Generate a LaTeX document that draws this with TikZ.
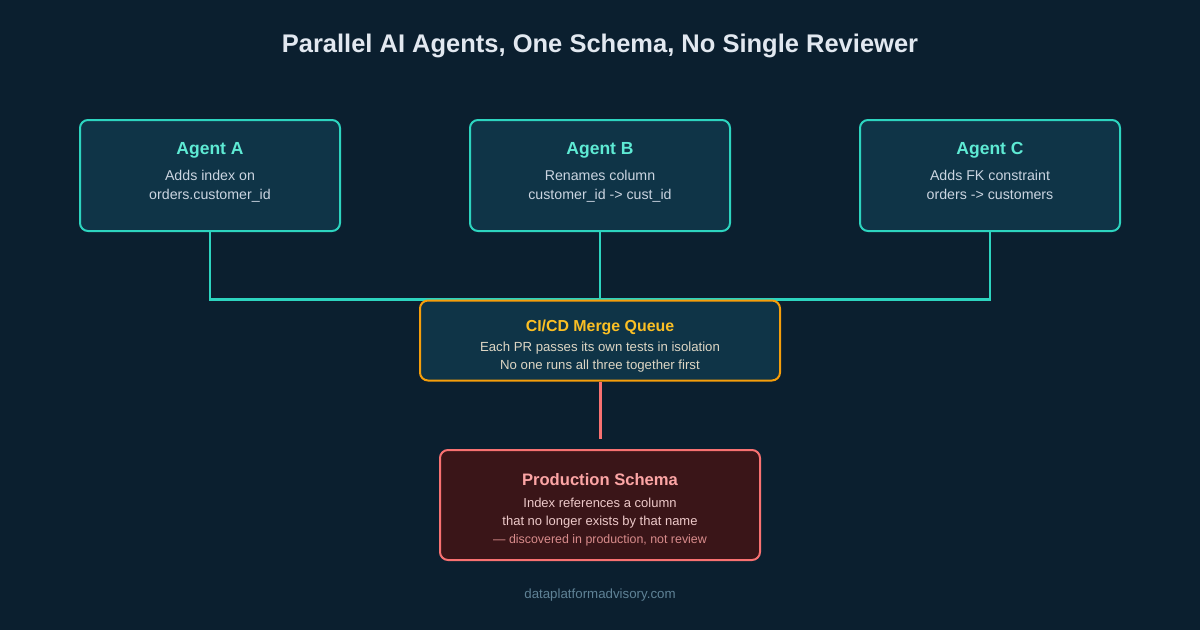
\documentclass[tikz,border=0pt]{standalone}
\usepackage{fontspec}
\setmainfont{Liberation Sans}
\usetikzlibrary{positioning,calc}
\definecolor{nightbg}{HTML}{0B1F2F}
\definecolor{boxfill}{HTML}{0F3447}
\definecolor{tealline}{HTML}{2DD4BF}
\definecolor{tealtext}{HTML}{5EEAD4}
\definecolor{agenttext}{HTML}{CBD5E1}
\definecolor{amberline}{HTML}{F59E0B}
\definecolor{ambertext}{HTML}{FBBF24}
\definecolor{queuetext}{HTML}{DDD6C4}
\definecolor{redline}{HTML}{F87171}
\definecolor{redfill}{HTML}{3A1518}
\definecolor{redtitle}{HTML}{FCA5A5}
\definecolor{redtext}{HTML}{EDC9C9}
\definecolor{rednote}{HTML}{D98C8C}
\definecolor{titletext}{HTML}{E2E8F0}
\definecolor{foottext}{HTML}{5F8296}
\pgfdeclarelayer{wires}
\pgfsetlayers{wires,main}

\begin{document}
\begin{tikzpicture}[x=1pt, y=-1pt,
  agent/.style={draw=tealline, line width=2pt, rounded corners=8pt,
                fill=boxfill, minimum width=260pt, minimum height=111pt,
                align=center, text=agenttext, font=\fontsize{14.2}{19}\selectfont},
  queue/.style={agent, draw=amberline, minimum width=360pt, minimum height=80pt,
                text=queuetext, font=\fontsize{13.2}{18}\selectfont},
  prod/.style={agent, draw=redline, fill=redfill, minimum width=320pt,
               minimum height=110pt, text=redtext, font=\fontsize{13}{18}\selectfont},
  wire/.style={draw=tealline, line width=2.5pt},
  alarm/.style={draw=redline, line width=3pt}]
  \useasboundingbox (0,0) rectangle (1200,630);
  \begin{pgfonlayer}{wires}
    \fill[nightbg] (0,0) rectangle (1200,630);
  \end{pgfonlayer}

  \node[font=\fontsize{25.5}{30}\selectfont\bfseries, text=titletext] (title) at (600,46)
    {Parallel AI Agents, One Schema, No Single Reviewer};

  % the three agents
  \node[agent] (agentA) at (210,175.5) {{\fontsize{17.5}{19}\selectfont\bfseries\color{tealtext}Agent A}\\[7pt]
    Adds index on\\ orders.customer\_id\rule[-9pt]{0pt}{0pt}};
  \node[agent] (agentB) at (600,175.5) {{\fontsize{17.5}{19}\selectfont\bfseries\color{tealtext}Agent B}\\[7pt]
    Renames column\\ customer\_id -> cust\_id\rule[-9pt]{0pt}{0pt}};
  \node[agent] (agentC) at (990,175.5) {{\fontsize{17.5}{19}\selectfont\bfseries\color{tealtext}Agent C}\\[7pt]
    Adds FK constraint\\ orders -> customers\rule[-9pt]{0pt}{0pt}};

  % merge queue and result
  \node[queue] (mergeq) at (600,340.5) {\rule{0pt}{22pt}{\fontsize{15.9}{18}\selectfont\bfseries\color{ambertext}CI/CD Merge Queue}\\[2pt]
    Each PR passes its own tests in isolation\\ No one runs all three together first};
  \node[prod] (schema) at (600,505) {\rule{0pt}{22pt}{\fontsize{16.6}{18}\selectfont\bfseries\color{redtitle}Production Schema}\\[4pt]
    Index references a column\\ that no longer exists by that name\\
    {\fontsize{12.4}{18}\selectfont\color{rednote}--- discovered in production, not review}};
  \coordinate (gap) at ($(schema.north)+(0,-10)$);

  \node[font=\fontsize{13.3}{16}\selectfont, text=foottext] (site) at (600,595) {dataplatformadvisory.com};

  \begin{pgfonlayer}{wires}
    \draw[wire] (agentA.south) |- (mergeq.north) -| (agentC.south);
    \draw[wire] (agentB.south) -- (mergeq.north);
    \draw[alarm] (mergeq.south) -- (gap);
  \end{pgfonlayer}
\end{tikzpicture}
\end{document}
